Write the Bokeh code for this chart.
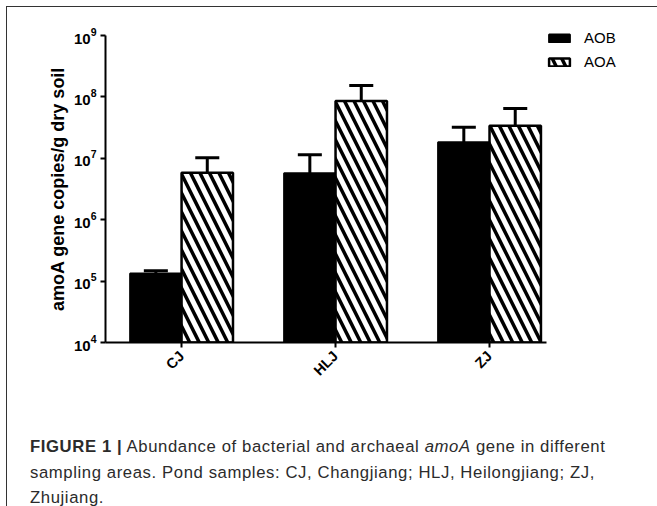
from bokeh.plotting import figure
from bokeh.models import (ColumnDataSource, Range1d, FixedTicker, Legend, LegendItem, Div,
                          LogTickFormatter)
from bokeh.layouts import column
from bokeh.embed import file_html
from bokeh.resources import INLINE

# ---- data ----
categories = ["CJ", "HLJ", "ZJ"]
aob = [1.33e5, 5.7e6, 1.83e7]
aob_upper = [1.47e5, 1.14e7, 3.2e7]
aoa = [5.8e6, 8.6e7, 3.38e7]
aoa_upper = [1.02e7, 1.53e8, 6.47e7]
y_ticks = [1e4, 1e5, 1e6, 1e7, 1e8, 1e9]

idx = list(range(len(categories)))
bar_w = 0.334
off = bar_w / 2
cap = 0.078

x_aob = [i - off for i in idx]
x_aoa = [i + off for i in idx]
src_aob = ColumnDataSource(dict(x=x_aob, top=aob, up=aob_upper,
                                x0=[x - cap for x in x_aob], x1=[x + cap for x in x_aob]))
src_aoa = ColumnDataSource(dict(x=x_aoa, top=aoa, up=aoa_upper,
                                x0=[x - cap for x in x_aoa], x1=[x + cap for x in x_aoa]))

FONT = "Liberation Sans"

p = figure(frame_width=441, frame_height=307, y_axis_type="log",
           x_range=Range1d(-0.494, 2.37), y_range=Range1d(1e4, 1e9),
           output_backend="svg", toolbar_location=None, title=None,
           min_border_left=98, min_border_top=28, min_border_right=110,
           min_border_bottom=65)
p.outline_line_color = None
p.xgrid.visible = False
p.ygrid.visible = False
p.background_fill_color = "white"
p.border_fill_color = "white"

# error bars (upward only)
for s in (src_aob, src_aoa):
    p.segment(x0="x", y0="top", x1="x", y1="up", source=s, line_color="black", line_width=3)
    p.segment(x0="x0", y0="up", x1="x1", y1="up", source=s, line_color="black", line_width=3)

r_aob = p.vbar(x="x", top="top", bottom=1e4, width=bar_w, source=src_aob,
               fill_color="black", line_color="black", line_width=2)
r_aoa = p.vbar(x="x", top="top", bottom=1e4, width=bar_w, source=src_aoa,
               fill_color="white", line_color="black", line_width=2.5,
               hatch_pattern="\\", hatch_color="black", hatch_weight=3.5, hatch_scale=19)

# axes
for ax in (p.xaxis, p.yaxis):
    ax.axis_line_width = 2
    ax.axis_line_color = "black"
    ax.major_tick_line_width = 2
    ax.major_tick_line_color = "black"
    ax.major_tick_out = 5
    ax.major_tick_in = 0
    ax.minor_tick_line_color = None
    ax.major_label_text_font = FONT
    ax.major_label_text_font_style = "bold"
    ax.major_label_text_color = "black"

p.yaxis.ticker = FixedTicker(ticks=y_ticks)
p.yaxis.formatter = LogTickFormatter()
p.yaxis.major_label_text_font_size = "15px"
p.yaxis.major_label_standoff = 4
p.yaxis.axis_label = "amoA gene copies/g dry soil"
p.yaxis.axis_label_text_font = FONT
p.yaxis.axis_label_text_font_style = "bold"
p.yaxis.axis_label_text_font_size = "18px"
p.yaxis.axis_label_text_color = "black"
p.yaxis.axis_label_standoff = 3

p.xaxis.ticker = FixedTicker(ticks=idx)
p.xaxis.major_label_overrides = {i: c for i, c in zip(idx, categories)}
p.xaxis.major_label_orientation = 0.785
p.xaxis.major_label_text_font_size = "14.5px"
p.xaxis.major_label_standoff = 6

legend = Legend(items=[LegendItem(label="AOB", renderers=[r_aob]),
                       LegendItem(label="AOA", renderers=[r_aoa])],
                location=(0, 272))
legend.glyph_width = 26
legend.glyph_height = 10
legend.label_height = 10
legend.spacing = 7
legend.padding = 0
legend.margin = 0
legend.label_standoff = 12
legend.border_line_color = None
legend.background_fill_alpha = 0
legend.label_text_font = FONT
legend.label_text_font_size = "15px"
legend.label_text_color = "black"
p.add_layout(legend, "right")

caption = Div(
    text=('<span style="font-weight:bold">FIGURE 1 |</span> Abundance of bacterial and archaeal '
          '<i>amoA</i> gene in different<br>sampling areas. Pond samples: CJ, Changjiang; '
          'HLJ, Heilongjiang; ZJ,<br>Zhujiang.'),
    width=649, height=98,
    styles={"font-family": "Liberation Sans", "font-size": "16.7px", "line-height": "25.5px",
            "letter-spacing": "0.6px",
            "color": "#2b2b2b", "padding-left": "18px", "padding-top": "22px",
            "white-space": "nowrap", "box-sizing": "border-box"})

layout = column(p, caption, spacing=0,
                styles={"border-left": "1.5px solid #333", "border-top": "1.5px solid #333",
                        "margin-left": "6px", "margin-top": "6px"})

open("out.html", "w").write(file_html(layout, INLINE))
